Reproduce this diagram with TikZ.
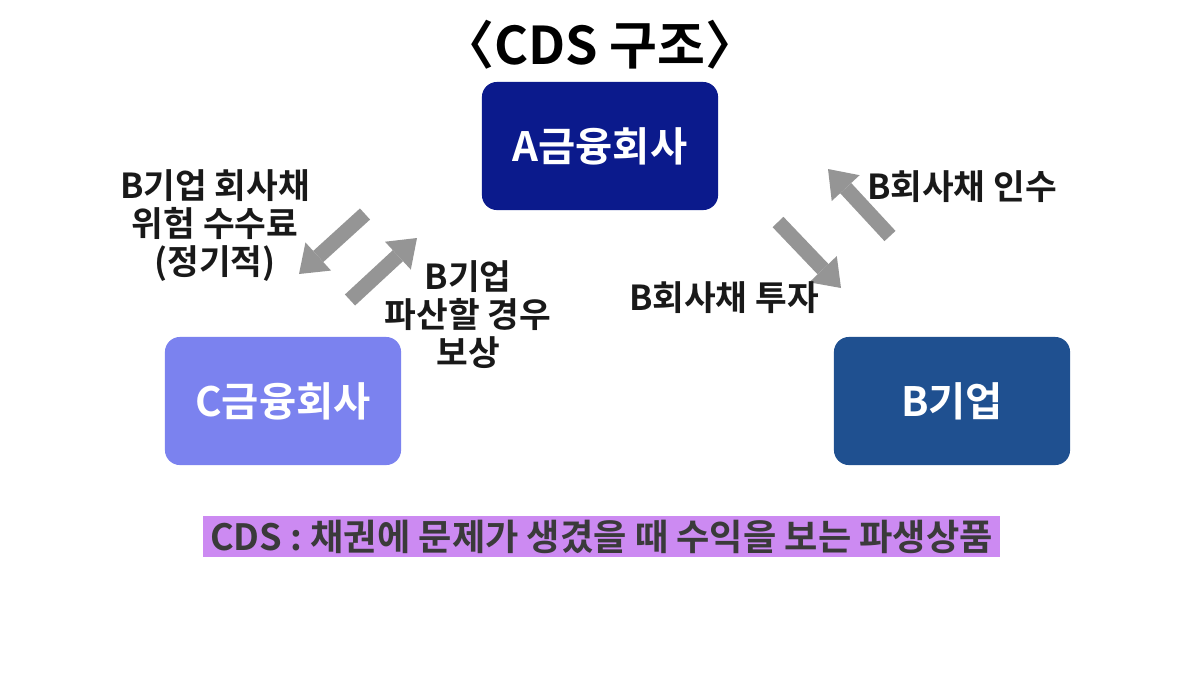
\documentclass[tikz,border=0pt]{standalone}
\usepackage{fontspec}
\setmainfont{Noto Sans CJK KR}[BoldFont={Noto Sans CJK KR Bold}]
\usetikzlibrary{arrows.meta}
\definecolor{navyA}{HTML}{0B1A8C}
\definecolor{blueB}{HTML}{1F5090}
\definecolor{violetC}{HTML}{7B82EF}
\definecolor{bandpink}{HTML}{CC8AF2}
\definecolor{arrowgray}{HTML}{959595}
\definecolor{textgray}{HTML}{3A3A3A}
\tikzset{
    firm/.style={rounded corners=0.15cm, text=white, font=\bfseries\fontsize{11.5}{13}\selectfont,
        minimum width=2.36cm, minimum height=1.28cm, inner sep=0pt},
    lbl/.style={align=center, text=black!90, font=\bfseries\fontsize{9.8}{10.8}\selectfont, inner sep=0pt},
    bigarrow/.style={arrowgray, line width=0.15cm,
        -{Triangle[length=0.26cm, width=0.38cm, line width=0pt]}}
}

\begin{document}
\begin{tikzpicture}[x=0.01cm,y=-0.01cm]
            \useasboundingbox (0,0) rectangle (1200,675);

            % title
            \node (title) at (600,45) {\bfseries\fontsize{14.8}{16}\selectfont 〈CDS 구조〉};

            % the three parties
            \node[firm, fill=navyA] (afirm) at (600,146) {A금융회사};
            \node[firm, fill=violetC] (cfirm) at (283,401) {C금융회사};
            \node[firm, fill=blueB] (bfirm) at (952,401) {B기업};

            % arrow ends
            \coordinate (fee from) at (365,214);
            \coordinate (fee to) at (299,274);
            \coordinate (pay from) at (350,300);
            \coordinate (pay to) at (417,238);
            \coordinate (inv from) at (778,222);
            \coordinate (inv to) at (841,288);
            \coordinate (buy from) at (890,236);
            \coordinate (buy to) at (828,169);

            \draw[bigarrow] (fee from) -- (fee to);
            \draw[bigarrow] (pay from) -- (pay to);
            \draw[bigarrow] (inv from) -- (inv to);
            \draw[bigarrow] (buy from) -- (buy to);

            % labels
            \node[lbl] (fee) at (215,226) {B기업 회사채\\위험 수수료\\(정기적)};
            \node[lbl] (pay) at (468,315) {B기업\\파산할 경우\\보상};
            \node[lbl] (buy) at (962,187) {B회사채 인수};
            \node[lbl] (inv) at (724,298) {B회사채 투자};

            % definition
            \node[fill=bandpink, text=textgray, minimum width=7.97cm, minimum height=0.41cm, inner sep=0pt,
                font=\bfseries\fontsize{10.3}{11}\selectfont] (def) at (601.5,536.5)
                {CDS : 채권에 문제가 생겼을 때 수익을 보는 파생상품};
        \end{tikzpicture}
\end{document}
